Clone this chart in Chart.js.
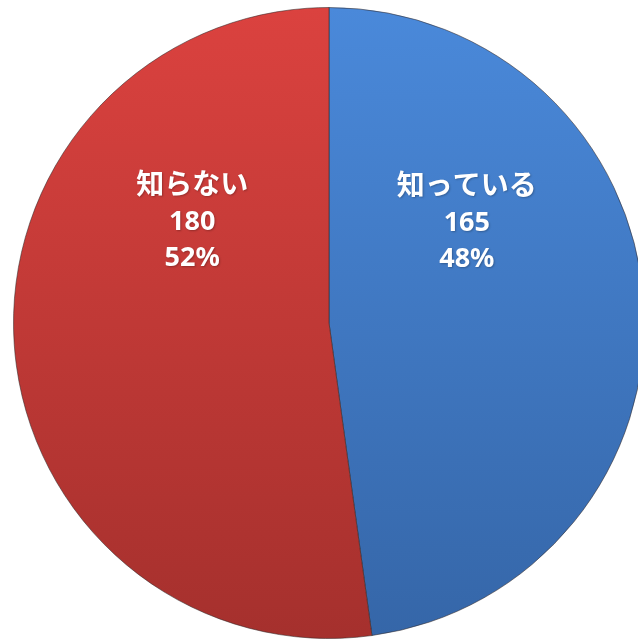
<!DOCTYPE html>
<html>
<head>
<meta charset="utf-8">
<script src="https://cdn.jsdelivr.net/npm/chart.js@4/dist/chart.umd.min.js"></script>
<style>
  html, body { margin: 0; padding: 0; background: #ffffff; overflow: hidden; width: 638px; height: 641px; }
  #wrap { position: absolute; left: 13px; top: 7px; width: 632px; height: 632px; }
</style>
</head>
<body>
<div id="wrap"><canvas id="c" width="632" height="632"></canvas></div>
<script>
const categories = ['知っている', '知らない'];
const counts = [165, 180];
const percentLabels = ['48%', '52%'];
const topColors = ['#4a89da', '#db423f'];
const bottomColors = ['#3566a8', '#a5302d'];

function sliceFill(context) {
  const chart = context.chart;
  const area = chart.chartArea;
  if (!area) return topColors[context.dataIndex];
  const g = chart.ctx.createLinearGradient(0, area.top, 0, area.bottom);
  g.addColorStop(0, topColors[context.dataIndex]);
  g.addColorStop(1, bottomColors[context.dataIndex]);
  return g;
}

const labelPlugin = {
  id: 'sliceLabels',
  afterDatasetsDraw(chart) {
    const ctx = chart.ctx;
    const meta = chart.getDatasetMeta(0);
    meta.data.forEach((arc, i) => {
      const p = arc.getProps(['x', 'y', 'startAngle', 'endAngle', 'outerRadius'], true);
      const topA = -Math.PI / 2;
      let ang;
      const dStart = Math.abs(p.startAngle - topA);
      const dEnd = Math.abs(p.endAngle - (topA + 2 * Math.PI));
      if (dStart < dEnd) ang = p.startAngle + 0.935; else ang = p.endAngle - 0.925;
      const r = p.outerRadius * 0.543;
      const lx = p.x + Math.cos(ang) * r;
      const ly = p.y + Math.sin(ang) * r;
      const lines = [categories[i], String(counts[i]), percentLabels[i]];
      ctx.save();
      ctx.fillStyle = '#ffffff';
      ctx.textAlign = 'center';
      ctx.textBaseline = 'alphabetic';
      ctx.shadowColor = 'rgba(0,0,0,0.25)';
      ctx.shadowBlur = 2;
      ctx.shadowOffsetX = 1;
      ctx.shadowOffsetY = 1;
      lines.forEach((t, k) => {
        ctx.font = (k === 0 ? 'bold 28px "Noto Sans CJK JP"' : 'bold 27px "Noto Sans", "Noto Sans CJK JP"');
        ctx.fillText(t, lx, ly - 26 + k * 36);
      });
      ctx.restore();
    });
  }
};

new Chart(document.getElementById('c'), {
  type: 'pie',
  data: {
    labels: categories,
    datasets: [{
      data: counts,
      backgroundColor: sliceFill,
      borderColor: 'rgba(50,40,40,0.55)',
      borderWidth: 1
    }]
  },
  options: {
    responsive: false,
    animation: false,
    layout: { padding: 0 },
    plugins: {
      legend: { display: false },
      tooltip: { enabled: false },
      title: { display: false }
    }
  },
  plugins: [labelPlugin]
});
</script>
</body>
</html>
